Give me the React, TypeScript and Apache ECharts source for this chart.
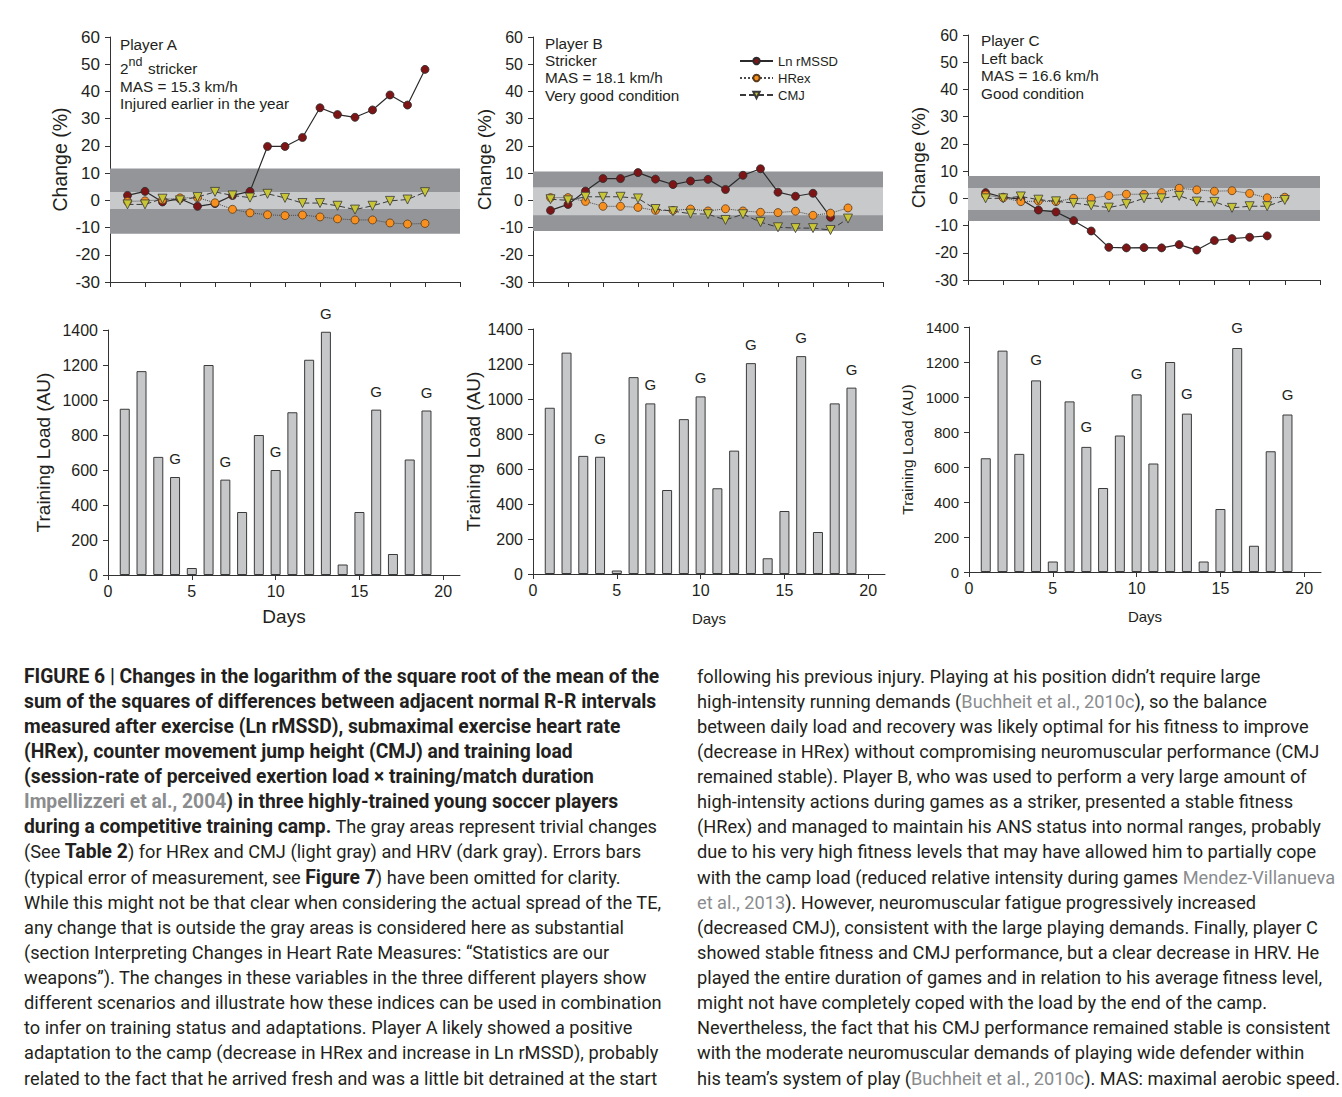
import React, { useEffect, useRef } from "react";
import * as echarts from "echarts";

// ---------- data ----------
const dayNums = [1, 2, 3, 4, 5, 6, 7, 8, 9, 10, 11, 12, 13, 14, 15, 16, 17, 18, 19];

// Change (%) per day – Player A
const lnA = [1.8, 3.3, -0.6, 0.6, -2.2, -1.2, 1.8, 3.3, 19.8, 19.8, 23.1, 34.0, 31.5, 30.5, 33.2, 38.7, 35.0, 48.1];
const hrA = [-0.4, -0.2, 0.2, 0.9, 1.0, -0.9, -3.3, -4.6, -5.3, -5.6, -5.4, -6.1, -6.8, -7.2, -7.2, -8.3, -8.7, -8.5];
const cmjA = [-1.5, -1.5, 0.6, 0.0, 1.2, 3.1, 1.8, 1.0, 2.4, 0.9, -1.0, -1.0, -2.0, -3.4, -2.0, -0.2, 0.3, 3.0];
// Player B
const lnB = [-3.7, -1.5, 3.4, 8.0, 8.0, 10.2, 7.8, 5.8, 7.1, 7.7, 4.0, 9.2, 11.6, 3.0, 1.5, 2.6, -6.2];
const hrB = [1.0, 1.0, -0.4, -2.2, -2.2, -2.6, -3.7, -3.7, -3.2, -3.9, -3.1, -3.9, -4.4, -4.5, -4.0, -5.5, -4.7, -2.8];
const cmjB = [0.4, 0.0, 1.3, 1.3, 1.3, 0.7, -3.2, -4.0, -4.9, -5.1, -7.2, -5.1, -8.0, -9.9, -10.2, -10.2, -10.9, -6.7];
// Player C
const lnC = [2.1, 0.4, -0.3, -4.3, -5.0, -8.2, -12.0, -18.0, -18.2, -18.1, -18.2, -17.0, -19.0, -15.5, -14.8, -14.3, -13.8];
const hrC = [1.2, 0.2, -1.2, -1.0, -1.2, 0.0, 0.0, 1.0, 1.5, 1.5, 2.1, 3.7, 3.1, 2.6, 2.8, 1.8, 0.2, 0.4];
const cmjC = [0.0, 0.0, 0.7, -0.5, -1.1, -1.7, -2.6, -3.4, -2.1, 0.0, 0.0, 0.9, -1.2, -1.3, -3.5, -2.9, -2.9, -0.6];

// trivial-change bands [low, high]: HRV (dark) and HRex/CMJ (light)
const hrvBandA = [-12.3, 11.7];
const hrBandA = [-3.2, 3.1];
const hrvBandB = [-11.3, 10.6];
const hrBandB = [-5.5, 4.8];
const hrvBandC = [-8.3, 8.2];
const hrBandC = [-4.3, 3.8];

// Training load (AU) per day
const loadA = [950, 1165, 675, 560, 40, 1200, 545, 360, 800, 600, 930, 1230, 1390, 60, 360, 945, 120, 660, 940];
const loadB = [950, 1265, 675, 670, 20, 1125, 975, 480, 885, 1015, 490, 705, 1205, 90, 360, 1245, 240, 975, 1065];
const loadC = [650, 1265, 675, 1095, 60, 975, 715, 480, 780, 1015, 620, 1200, 905, 60, 360, 1280, 150, 690, 900];
const gameDays = [4, 7, 10, 13, 16, 19];

const seriesNames = ["Ln rMSSD", "HRex", "CMJ"];
const dayLabels = [0, 5, 10, 15, 20];

const playerA = ["Player A", "MAS = 15.3 km/h", "Injured earlier in the year"];
const playerB = ["Player B", "Stricker", "MAS = 18.1 km/h", "Very good condition"];
const playerC = ["Player C", "Left back", "MAS = 16.6 km/h", "Good condition"];

// caption lines: [style, text] segments
const captionLeft: [string, string][][] = [
  [["b", "FIGURE 6 | Changes in the logarithm of the square root of the mean of the"]],
  [["b", "sum of the squares of differences between adjacent normal R-R intervals"]],
  [["b", "measured after exercise (Ln rMSSD), submaximal exercise heart rate"]],
  [["b", "(HRex), counter movement jump height (CMJ) and training load"]],
  [["b", "(session-rate of perceived exertion load × training/match duration"]],
  [["bg", "Impellizzeri et al., 2004"], ["b", ") in three highly-trained young soccer players"]],
  [["b", "during a competitive training camp."], ["n", " The gray areas represent trivial changes"]],
  [["n", "(See "], ["b", "Table 2"], ["n", ") for HRex and CMJ (light gray) and HRV (dark gray). Errors bars"]],
  [["n", "(typical error of measurement, see "], ["b", "Figure 7"], ["n", ") have been omitted for clarity."]],
  [["n", "While this might not be that clear when considering the actual spread of the TE,"]],
  [["n", "any change that is outside the gray areas is considered here as substantial"]],
  [["n", "(section Interpreting Changes in Heart Rate Measures: “Statistics are our"]],
  [["n", "weapons”). The changes in these variables in the three different players show"]],
  [["n", "different scenarios and illustrate how these indices can be used in combination"]],
  [["n", "to infer on training status and adaptations. Player A likely showed a positive"]],
  [["n", "adaptation to the camp (decrease in HRex and increase in Ln rMSSD), probably"]],
  [["n", "related to the fact that he arrived fresh and was a little bit detrained at the start"]],
];
const captionRight: [string, string][][] = [
  [["n", "following his previous injury. Playing at his position didn’t require large"]],
  [["n", "high-intensity running demands ("], ["g", "Buchheit et al., 2010c"], ["n", "), so the balance"]],
  [["n", "between daily load and recovery was likely optimal for his fitness to improve"]],
  [["n", "(decrease in HRex) without compromising neuromuscular performance (CMJ"]],
  [["n", "remained stable). Player B, who was used to perform a very large amount of"]],
  [["n", "high-intensity actions during games as a striker, presented a stable fitness"]],
  [["n", "(HRex) and managed to maintain his ANS status into normal ranges, probably"]],
  [["n", "due to his very high fitness levels that may have allowed him to partially cope"]],
  [["n", "with the camp load (reduced relative intensity during games "], ["g", "Mendez-Villanueva"]],
  [["g", "et al., 2013"], ["n", "). However, neuromuscular fatigue progressively increased"]],
  [["n", "(decreased CMJ), consistent with the large playing demands. Finally, player C"]],
  [["n", "showed stable fitness and CMJ performance, but a clear decrease in HRV. He"]],
  [["n", "played the entire duration of games and in relation to his average fitness level,"]],
  [["n", "might not have completely coped with the load by the end of the camp."]],
  [["n", "Nevertheless, the fact that his CMJ performance remained stable is consistent"]],
  [["n", "with the moderate neuromuscular demands of playing wide defender within"]],
  [["n", "his team’s system of play ("], ["g", "Buchheit et al., 2010c"], ["n", "). MAS: maximal aerobic speed."]],
];

// ---------- styles ----------
const FONT = "'Liberation Sans', Arial, Helvetica, sans-serif";
const CAP_FONT = "Roboto, 'Liberation Sans', sans-serif";
const INK = "#231f20";
const AXIS = "#333";
const DARK_BAND = "#939598";
const LIGHT_BAND = "#c8c9cb";
const BAR_FILL = "#c6c7c9";
const CITE = "#8a8c8e";
const CAP_N = 18.2;
const CAP_B = 19.3;

function buildOption() {
  const topGrids = [
    { left: 110, top: 37, width: 350, height: 245 },
    { left: 533, top: 37, width: 350, height: 245 },
    { left: 968, top: 35, width: 352, height: 245 },
  ];
  const botGrids = [
    { left: 108, top: 330, width: 352, height: 245 },
    { left: 533, top: 329, width: 352, height: 245 },
    { left: 969, top: 327, width: 352, height: 245 },
  ];
  const topCfg = [
    { tick: 17, name: 19.5, gap: 40 },
    { tick: 16, name: 19, gap: 39 },
    { tick: 16, name: 19, gap: 40 },
  ];
  const botCfg = [
    { tick: 16, name: 19, gap: 55, days: 19, daysGap: 32 },
    { tick: 16, name: 19, gap: 50, days: 15, daysGap: 37 },
    { tick: 15, name: 15.5, gap: 54, days: 15, daysGap: 37 },
  ];

  const grid: any[] = [...topGrids, ...botGrids];
  const xAxis: any[] = [];
  const yAxis: any[] = [];
  const series: any[] = [];

  const axisLine = { onZero: false, lineStyle: { color: AXIS, width: 1 } };
  const axisTick = { inside: false, length: 5, lineStyle: { color: AXIS } };
  const plain = (v: number) => String(v);

  for (let i = 0; i < 3; i++) {
    xAxis.push({
      gridIndex: i, type: "value", min: 0, max: 20, interval: 2,
      axisLine, axisTick, axisLabel: { show: false }, splitLine: { show: false },
    });
    yAxis.push({
      gridIndex: i, type: "value", min: -30, max: 60, interval: 10,
      name: "Change (%)", nameLocation: "middle", nameGap: topCfg[i].gap,
      nameTextStyle: { fontSize: topCfg[i].name, fontFamily: FONT, color: INK },
      axisLine, axisTick,
      axisLabel: { fontSize: topCfg[i].tick, fontFamily: FONT, color: INK, margin: 10, formatter: plain },
      splitLine: { show: false },
    });
  }
  for (let i = 0; i < 3; i++) {
    const c = botCfg[i];
    xAxis.push({
      gridIndex: 3 + i, type: "value", min: 0, max: 21, interval: 5,
      name: "Days", nameLocation: "middle", nameGap: c.daysGap,
      nameTextStyle: { fontSize: c.days, fontFamily: FONT, color: INK },
      axisLine, axisTick: { ...axisTick, customValues: dayLabels },
      axisLabel: { fontSize: 16, fontFamily: FONT, color: INK, margin: 8, customValues: dayLabels, formatter: plain },
      splitLine: { show: false },
    });
    yAxis.push({
      gridIndex: 3 + i, type: "value", min: 0, max: 1400, interval: 200,
      name: "Training Load (AU)", nameLocation: "middle", nameGap: c.gap,
      nameTextStyle: { fontSize: c.name, fontFamily: FONT, color: INK },
      axisLine, axisTick,
      axisLabel: { fontSize: c.tick, fontFamily: FONT, color: INK, margin: 10, formatter: plain },
      splitLine: { show: false },
    });
  }

  const changeData = [
    [lnA, hrA, cmjA, hrvBandA, hrBandA],
    [lnB, hrB, cmjB, hrvBandB, hrBandB],
    [lnC, hrC, cmjC, hrvBandC, hrBandC],
  ];
  const bandColors = [DARK_BAND, LIGHT_BAND];
  const toPts = (arr: number[]) => arr.map((v, k) => [dayNums[k], v]);

  changeData.forEach((d, i) => {
    const [ln, hr, cmj, dark, light] = d;
    series.push({
      type: "custom", xAxisIndex: i, yAxisIndex: i, z: 1, silent: true,
      data: [dark, light],
      encode: { x: -1, y: [0, 1] },
      renderItem: (params: any, api: any) => {
        const lo = api.value(0);
        const hi = api.value(1);
        const p1 = api.coord([0, hi]);
        const p2 = api.coord([20, lo]);
        return {
          type: "rect",
          shape: { x: p1[0], y: p1[1], width: p2[0] - p1[0], height: p2[1] - p1[1] },
          style: { fill: bandColors[params.dataIndex] },
        };
      },
    });
    series.push({
      name: seriesNames[0], type: "line", xAxisIndex: i, yAxisIndex: i, z: 3,
      data: toPts(ln), symbol: "circle", symbolSize: 8,
      lineStyle: { color: "#2b2b2b", width: 1.2, type: "solid" },
      itemStyle: { color: "#7d1517", borderColor: "#2b2b2b", borderWidth: 0.8 },
    });
    series.push({
      name: seriesNames[1], type: "line", xAxisIndex: i, yAxisIndex: i, z: 4,
      data: toPts(hr), symbol: "circle", symbolSize: 8,
      lineStyle: { color: "#4a4a4a", width: 1, type: "dotted" },
      itemStyle: { color: "#f7901e", borderColor: "#5a3a1a", borderWidth: 0.8 },
    });
    series.push({
      name: seriesNames[2], type: "line", xAxisIndex: i, yAxisIndex: i, z: 5,
      data: toPts(cmj), symbol: "triangle", symbolRotate: 180, symbolSize: 9,
      lineStyle: { color: "#3a3a3a", width: 1, type: [6, 3] },
      itemStyle: { color: "#c9c636", borderColor: "#3a3a3a", borderWidth: 0.8 },
    });
  });

  const loads = [loadA, loadB, loadC];
  const labelDist = [11, 11, 13];
  loads.forEach((ld, i) => {
    series.push({
      type: "bar", xAxisIndex: 3 + i, yAxisIndex: 3 + i, barWidth: 10,
      itemStyle: { color: BAR_FILL, borderColor: "#3a3a3a", borderWidth: 1 },
      label: { show: false },
      data: ld.map((v, k) => {
        const day = dayNums[k];
        const item: any = { value: [day, v] };
        if (gameDays.includes(day)) {
          item.label = {
            show: true, position: "top", distance: labelDist[i], formatter: "G",
            fontSize: 15, fontFamily: FONT, color: INK,
          };
        }
        return item;
      }),
    });
  });

  // annotations
  const txt = (text: string, x: number, y: number, size = 15.3) => ({
    type: "text", x, y, silent: true,
    style: { text, fontSize: size, fontFamily: FONT, fill: INK, align: "left", verticalAlign: "middle" },
  });
  const graphic: any[] = [
    txt(playerA[0], 120, 44),
    txt("2", 120, 68),
    txt("nd", 128.5, 62, 12.5),
    txt("stricker", 148, 68),
    txt(playerA[1], 120, 86),
    txt(playerA[2], 120, 103),
  ];
  playerB.forEach((t, k) => graphic.push(txt(t, 545, 43.3 + k * 17.3)));
  playerC.forEach((t, k) => graphic.push(txt(t, 981, 40.7 + k * 17.5)));

  const rich: any = {
    n: { fontSize: CAP_N, fontFamily: CAP_FONT, fill: INK, color: INK },
    b: { fontSize: CAP_B, fontFamily: CAP_FONT, fill: INK, color: INK, fontWeight: "bold" },
    bg: { fontSize: CAP_B, fontFamily: CAP_FONT, fill: CITE, color: CITE, fontWeight: "bold" },
    g: { fontSize: CAP_N, fontFamily: CAP_FONT, fill: CITE, color: CITE },
  };
  const capLine = (segs: [string, string][], x: number, y: number) => ({
    type: "text", x, y, silent: true,
    style: {
      text: segs.map(([s, t]) => `{${s}|${t}}`).join(""),
      rich, fontSize: CAP_N, fontFamily: CAP_FONT, fill: INK, align: "left", verticalAlign: "middle",
    },
  });
  captionLeft.forEach((segs, k) => graphic.push(capLine(segs, 24, 676 + k * 25.125)));
  captionRight.forEach((segs, k) => graphic.push(capLine(segs, 697, 676 + k * 25.125)));

  return {
    animation: false,
    backgroundColor: "#ffffff",
    grid,
    xAxis,
    yAxis,
    series,
    legend: {
      data: seriesNames, orient: "vertical", left: 734, top: 49,
      itemWidth: 33, itemHeight: 8, itemGap: 3, selectedMode: false,
      textStyle: { fontSize: 13, fontFamily: FONT, color: INK, lineHeight: 14 },
    },
    graphic,
  };
}

export default function App() {
  const ref = useRef<HTMLDivElement>(null);
  useEffect(() => {
    const chart = echarts.init(ref.current!, null, { renderer: "svg" });
    chart.setOption(buildOption() as any);
    return () => chart.dispose();
  }, []);
  return (
    <div
      ref={ref}
      style={{ position: "absolute", left: 0, top: 0, width: 1342, height: 1097, background: "#fff" }}
    />
  );
}
